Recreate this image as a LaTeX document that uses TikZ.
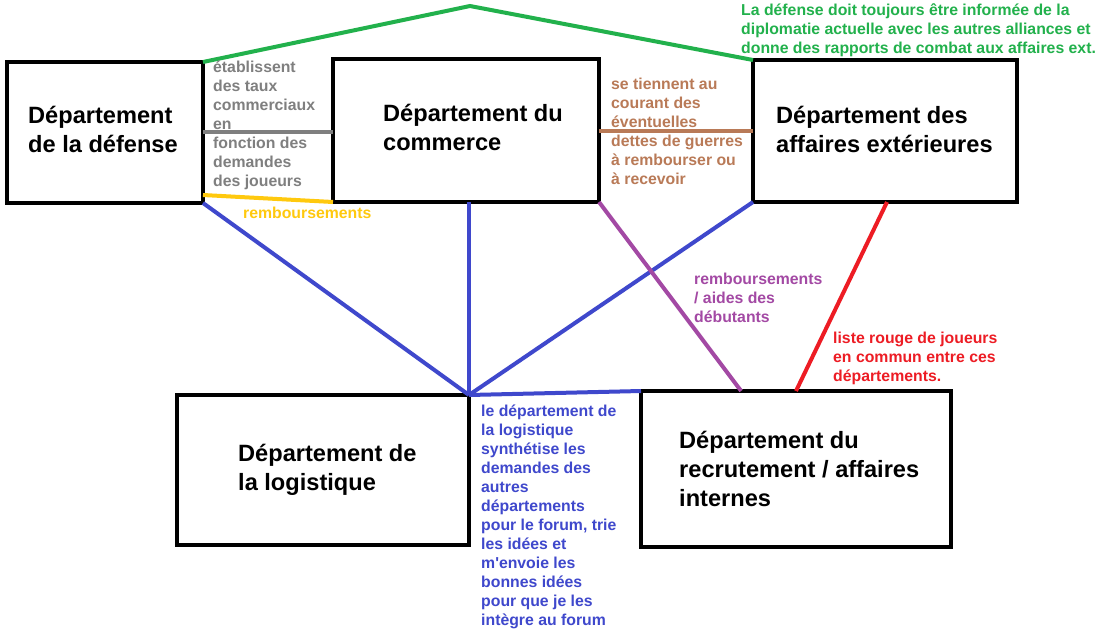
\documentclass[tikz,border=0pt]{standalone}
\usepackage{fontspec}
\setmainfont{Liberation Sans}
\usetikzlibrary{calc}
\definecolor{pgreen}{RGB}{34,177,76}
\definecolor{pgray}{RGB}{127,127,127}
\definecolor{pgold}{RGB}{255,201,14}
\definecolor{pblue}{RGB}{63,72,204}
\definecolor{pbrown}{RGB}{185,122,87}
\definecolor{ppurple}{RGB}{163,73,164}
\definecolor{pred}{RGB}{237,28,36}
\begin{document}
\begin{tikzpicture}[x=1pt,y=-1pt,
  box/.style={draw=black,line width=4pt,outer sep=0pt,inner sep=0pt,anchor=north west},
  title/.style={anchor=base west,inner sep=0pt,align=left,font=\fontsize{23.6pt}{29pt}\selectfont\bfseries},
  note/.style={anchor=base west,inner sep=0pt,align=left,font=\fontsize{15.8pt}{19pt}\selectfont\bfseries},
  link/.style={line width=4pt}]
\useasboundingbox (0,0) rectangle (1100,630);
\fill[white] (0,0) rectangle (1100,630);
% boxes
\node[box,minimum width=196pt,minimum height=141pt] (def) at (7,62) {};
\node[box,minimum width=266pt,minimum height=143pt] (com) at (333,59) {};
\node[box,minimum width=264pt,minimum height=142pt] (ext) at (753,60) {};
\node[box,minimum width=292pt,minimum height=150pt] (log) at (177,395) {};
\node[box,minimum width=310pt,minimum height=156pt] (rec) at (641,391) {};
% titles (anchor = baseline of last line)
\node[title] (tdef) at (28,152) {Département\\de la défense};
\node[title] (tcom) at (383,150) {Département du\\commerce};
\node[title] (text) at (776,152) {Département des\\affaires extérieures};
\node[title] (tlog) at (238,490) {Département de\\la logistique};
\node[title] (trec) at (679,506) {Département du\\recrutement / affaires\\internes};
% connectors
\coordinate (top) at (470,6);
\draw[link,pgreen] (def.north east) -- (top) -- (ext.north west);
\draw[link,pgray] (def.east |- 0,132) -- (com.west |- 0,132);
\draw[link,pgold] (def.south east |- 0,195) -- (com.south west);
\draw[link,pblue] (def.south east) -- (log.north east);
\draw[link,pblue] (com.south -| log.north east) -- (log.north east);
\draw[link,pblue] (ext.south west) -- (log.north east);
\draw[link,pblue] (log.north east) -- (rec.north west);
\draw[link,pbrown] (com.east |- 0,131) -- (ext.west |- 0,131);
\draw[link,ppurple] (com.south east) -- ($(rec.north west)!0.323!(rec.north east)$);
\draw[link,pred] (ext.south -| 887,0) -- (rec.north);
% labels (anchor = baseline of last line)
\node[note,pgray] (lgray) at (213,186) {établissent\\des taux\\commerciaux\\en\\fonction des\\demandes\\des joueurs};
\node[note,pgold] (lgold) at (243,218) {remboursements};
\node[note,pbrown] (lbrown) at (611,184) {se tiennent au\\courant des\\éventuelles\\dettes de guerres\\à rembourser ou\\à recevoir};
\node[note,pgreen] (lgreen) at (741,53) {La défense doit toujours être informée de la\\diplomatie actuelle avec les autres alliances et\\donne des rapports de combat aux affaires ext.};
\node[note,ppurple] (lpurple) at (694,322) {remboursements\\/ aides des\\débutants};
\node[note,pred] (lred) at (833,381) {liste rouge de joueurs\\en commun entre ces\\départements.};
\node[note,pblue] (lblue) at (481,625) {le département de\\la logistique\\synthétise les\\demandes des\\autres\\départements\\pour le forum, trie\\les idées et\\m\textquotesingle envoie les\\bonnes idées\\pour que je les\\intègre au forum};
\end{tikzpicture}
\end{document}
